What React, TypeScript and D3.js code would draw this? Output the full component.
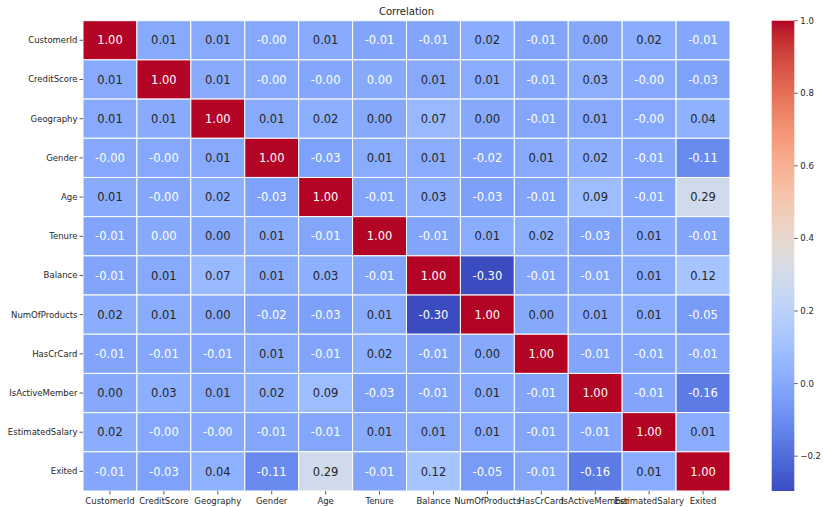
import React from "react";
import * as d3 from "d3";

const labels = [
  "CustomerId", "CreditScore", "Geography", "Gender", "Age", "Tenure",
  "Balance", "NumOfProducts", "HasCrCard", "IsActiveMember", "EstimatedSalary", "Exited",
];

const rowCustomerId = [1.0, 0.006, 0.007, -0.002, 0.009, -0.014, -0.012, 0.017, -0.014, 0.002, 0.016, -0.006];
const rowCreditScore = [0.006, 1.0, 0.008, -0.003, -0.004, 0.001, 0.006, 0.012, -0.005, 0.026, -0.001, -0.027];
const rowGeography = [0.007, 0.008, 1.0, 0.005, 0.023, 0.003, 0.069, 0.004, -0.009, 0.007, -0.001, 0.036];
const rowGender = [-0.002, -0.003, 0.005, 1.0, -0.028, 0.014, 0.012, -0.022, 0.006, 0.023, -0.008, -0.107];
const rowAge = [0.009, -0.004, 0.023, -0.028, 1.0, -0.010, 0.028, -0.031, -0.012, 0.085, -0.007, 0.286];
const rowTenure = [-0.014, 0.001, 0.003, 0.014, -0.010, 1.0, -0.012, 0.013, 0.023, -0.028, 0.008, -0.014];
const rowBalance = [-0.012, 0.006, 0.069, 0.012, 0.028, -0.012, 1.0, -0.296, -0.014, -0.010, 0.013, 0.119];
const rowNumOfProducts = [0.017, 0.012, 0.004, -0.022, -0.031, 0.013, -0.296, 1.0, 0.003, 0.010, 0.014, -0.048];
const rowHasCrCard = [-0.014, -0.005, -0.009, 0.006, -0.012, 0.023, -0.014, 0.003, 1.0, -0.012, -0.010, -0.007];
const rowIsActiveMember = [0.002, 0.026, 0.007, 0.023, 0.085, -0.028, -0.010, 0.010, -0.012, 1.0, -0.011, -0.156];
const rowEstimatedSalary = [0.016, -0.001, -0.001, -0.008, -0.007, 0.008, 0.013, 0.014, -0.010, -0.011, 1.0, 0.012];
const rowExited = [-0.006, -0.027, 0.036, -0.107, 0.286, -0.014, 0.119, -0.048, -0.007, -0.156, 0.012, 1.0];

const matrix = [
  rowCustomerId, rowCreditScore, rowGeography, rowGender, rowAge, rowTenure,
  rowBalance, rowNumOfProducts, rowHasCrCard, rowIsActiveMember, rowEstimatedSalary, rowExited,
];

const colorbarTicks = [1.0, 0.8, 0.6, 0.4, 0.2, 0.0, -0.2];
const title = "Correlation";

// matplotlib coolwarm control points
const coolwarm = [
  [59, 76, 192], [68, 90, 204], [77, 104, 215], [87, 117, 225], [98, 130, 234],
  [108, 142, 241], [119, 154, 247], [130, 165, 251], [141, 176, 254], [152, 185, 255],
  [163, 194, 255], [174, 201, 253], [184, 208, 249], [194, 213, 244], [204, 217, 238],
  [213, 219, 230], [221, 221, 221], [229, 216, 209], [236, 211, 197], [241, 204, 185],
  [245, 196, 173], [247, 187, 160], [247, 177, 148], [247, 166, 135], [244, 154, 123],
  [241, 141, 111], [236, 127, 99], [229, 112, 88], [222, 96, 77], [213, 80, 66],
  [203, 62, 56], [192, 40, 47], [180, 4, 38],
];
const cwInterp = d3.piecewise(
  d3.interpolateRgb,
  coolwarm.map(([r, g, b]) => d3.rgb(r, g, b).toString())
);

const W = 823;
const H = 507;
const left = 83;
const right = 730;
const top = 20.7;
const bottom = 491;
const cbX0 = 771.7;
const cbX1 = 794.3;

const allVals = matrix.flat();
const vmin = d3.min(allVals) as number;
const vmax = d3.max(allVals) as number;

export default function App() {
  const x = d3.scaleBand<string>().domain(labels).range([left, right]);
  const y = d3.scaleBand<string>().domain(labels).range([top, bottom]);
  const norm = d3.scaleLinear().domain([vmin, vmax]).range([0, 1]).clamp(true);
  const color = (v: number) => cwInterp(norm(v));
  const cbY = d3.scaleLinear().domain([vmin, vmax]).range([bottom, top]);
  const textCol = (v: number) => (v < 0.002 || v > 0.6 ? "#ffffff" : "#262626");
  const stops = d3.range(0, 65).map((i) => i / 64);
  const font = "DejaVu Sans, sans-serif";

  return (
    <svg width={W} height={H} style={{ position: "absolute", left: 0, top: 0, background: "#fff" }}>
      <defs>
        <linearGradient id="cbgrad" x1="0" y1="1" x2="0" y2="0">
          {stops.map((s) => (
            <stop key={s} offset={s} stopColor={cwInterp(s)} />
          ))}
        </linearGradient>
      </defs>
      <text x={(left + right) / 2} y={15} textAnchor="middle" fontFamily={font} fontSize={10} fill="#262626">
        {title}
      </text>
      {matrix.map((row, i) =>
        row.map((v, j) => (
          <g key={`${i}-${j}`}>
            <rect
              x={x(labels[j])}
              y={y(labels[i])}
              width={x.bandwidth()}
              height={y.bandwidth()}
              fill={color(v)}
              stroke="#ffffff"
              strokeWidth={1}
            />
            <text
              x={(x(labels[j]) as number) + x.bandwidth() / 2}
              y={(y(labels[i]) as number) + y.bandwidth() / 2}
              dy="0.36em"
              textAnchor="middle"
              fontFamily={font}
              fontSize={11.5}
              fill={textCol(v)}
            >
              {v.toFixed(2)}
            </text>
          </g>
        ))
      )}
      {labels.map((l) => {
        const cy = (y(l) as number) + y.bandwidth() / 2;
        return (
          <g key={"y" + l}>
            <line x1={left - 3.5} x2={left} y1={cy} y2={cy} stroke="#333" strokeWidth={0.8} />
            <text x={left - 5.5} y={cy} dy="0.35em" textAnchor="end" fontFamily={font} fontSize={8.5} fill="#262626">
              {l}
            </text>
          </g>
        );
      })}
      {labels.map((l) => {
        const cx = (x(l) as number) + x.bandwidth() / 2;
        return (
          <g key={"x" + l}>
            <line x1={cx} x2={cx} y1={bottom} y2={bottom + 3.5} stroke="#333" strokeWidth={0.8} />
            <text x={cx} y={bottom + 13} textAnchor="middle" fontFamily={font} fontSize={8.5} fill="#262626">
              {l}
            </text>
          </g>
        );
      })}
      <rect x={cbX0} y={top} width={cbX1 - cbX0} height={bottom - top} fill="url(#cbgrad)" />
      {colorbarTicks.map((t) => (
        <g key={"cb" + t}>
          <line x1={cbX1} x2={cbX1 + 3.5} y1={cbY(t)} y2={cbY(t)} stroke="#333" strokeWidth={0.8} />
          <text x={cbX1 + 6} y={cbY(t)} dy="0.35em" fontFamily={font} fontSize={8.5} fill="#262626">
            {t < 0 ? "\u2212" + Math.abs(t).toFixed(1) : t.toFixed(1)}
          </text>
        </g>
      ))}
    </svg>
  );
}
